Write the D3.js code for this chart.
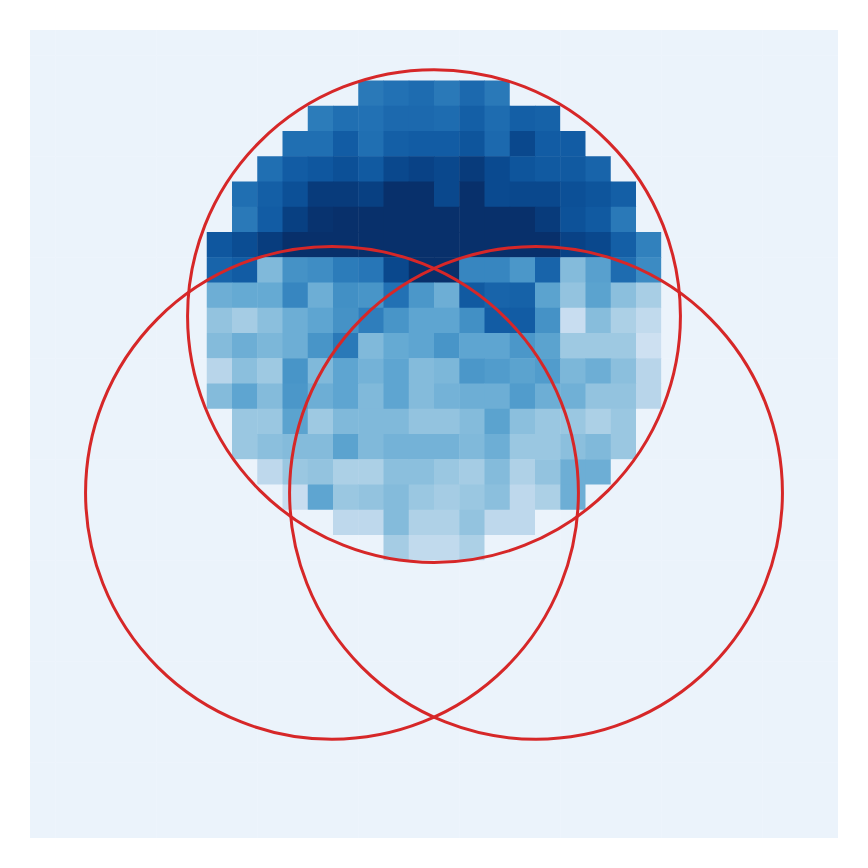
<!DOCTYPE html>
<html>
<head>
<meta charset="utf-8">
<script src="https://cdn.jsdelivr.net/npm/d3@7"></script>
<style>
  html, body { margin: 0; padding: 0; background: #ffffff; }
  svg { display: block; }
</style>
</head>
<body>
<svg id="chart" width="868" height="868"></svg>
<script>
// ---- data ----
const gridSize = 32;
const backgroundValue = 0.06;
const firstRow = 2;
const rowStarts = [13, 11, 10, 9, 8, 8, 7, 7, 7, 7, 7, 7, 7, 8, 8, 9, 10, 12, 14];
const rowValues = [
  [0.72, 0.75, 0.77, 0.72, 0.78, 0.72],
  [0.71, 0.76, 0.75, 0.78, 0.78, 0.77, 0.82, 0.77, 0.82, 0.81],
  [0.76, 0.76, 0.83, 0.76, 0.82, 0.83, 0.83, 0.86, 0.78, 0.91, 0.83, 0.83],
  [0.76, 0.83, 0.85, 0.88, 0.84, 0.91, 0.93, 0.91, 0.96, 0.90, 0.86, 0.84, 0.84, 0.80],
  [0.76, 0.82, 0.88, 0.96, 0.96, 0.94, 1.00, 1.00, 0.91, 1.00, 0.90, 0.91, 0.91, 0.88, 0.86, 0.82],
  [0.72, 0.83, 0.94, 0.99, 1.00, 1.00, 1.00, 1.00, 1.00, 1.00, 1.00, 1.00, 0.96, 0.87, 0.84, 0.72],
  [0.85, 0.89, 0.95, 1.00, 1.00, 1.00, 1.00, 1.00, 1.00, 1.00, 1.00, 1.00, 1.00, 1.00, 0.93, 0.91, 0.82, 0.69],
  [0.80, 0.83, 0.45, 0.62, 0.64, 0.71, 0.73, 0.91, 1.00, 1.00, 0.67, 0.67, 0.60, 0.80, 0.44, 0.56, 0.77, 0.65],
  [0.50, 0.52, 0.52, 0.67, 0.50, 0.63, 0.61, 0.75, 0.60, 0.50, 0.84, 0.80, 0.81, 0.55, 0.40, 0.55, 0.42, 0.34],
  [0.40, 0.35, 0.42, 0.50, 0.54, 0.62, 0.70, 0.61, 0.54, 0.54, 0.63, 0.83, 0.83, 0.62, 0.23, 0.43, 0.33, 0.26],
  [0.44, 0.50, 0.46, 0.50, 0.61, 0.72, 0.45, 0.52, 0.54, 0.61, 0.54, 0.54, 0.60, 0.55, 0.37, 0.37, 0.37, 0.21],
  [0.29, 0.42, 0.37, 0.61, 0.45, 0.54, 0.48, 0.54, 0.44, 0.46, 0.60, 0.58, 0.55, 0.58, 0.46, 0.50, 0.42, 0.29],
  [0.44, 0.54, 0.44, 0.60, 0.50, 0.54, 0.45, 0.54, 0.44, 0.48, 0.50, 0.50, 0.58, 0.50, 0.49, 0.40, 0.40, 0.29],
  [0.38, 0.38, 0.55, 0.37, 0.45, 0.45, 0.45, 0.40, 0.40, 0.44, 0.55, 0.42, 0.38, 0.38, 0.33, 0.38],
  [0.38, 0.42, 0.44, 0.44, 0.55, 0.45, 0.48, 0.48, 0.48, 0.45, 0.50, 0.38, 0.38, 0.42, 0.45, 0.38],
  [0.27, 0.38, 0.40, 0.33, 0.33, 0.42, 0.42, 0.38, 0.35, 0.44, 0.32, 0.40, 0.50, 0.50],
  [0.23, 0.54, 0.38, 0.40, 0.44, 0.38, 0.35, 0.38, 0.42, 0.27, 0.33, 0.50],
  [0.27, 0.27, 0.44, 0.32, 0.32, 0.40, 0.27, 0.27],
  [0.35, 0.26, 0.26, 0.33]
];
// circle centres in grid units
const circleX = [16.0, 11.96, 20.04];
const circleY = [11.33, 18.33, 18.33];
const circleR = [9.76, 9.76, 9.76];

// ---- build cells ----
const cells = [];
for (let r = 0; r < gridSize; r++) {
  for (let c = 0; c < gridSize; c++) {
    let v = backgroundValue;
    const ri = r - firstRow;
    if (ri >= 0 && ri < rowValues.length) {
      const ci = c - rowStarts[ri];
      if (ci >= 0 && ci < rowValues[ri].length) v = rowValues[ri][ci];
    }
    cells.push({ r, c, v });
  }
}

// ---- draw ----
const svg = d3.select("#chart");
const plotLeft = 30, plotTop = 30, plotSize = 808;
const idx = d3.range(gridSize);
const xBand = d3.scaleBand().domain(idx).range([plotLeft, plotLeft + plotSize]).padding(0);
const yBand = d3.scaleBand().domain(idx).range([plotTop, plotTop + plotSize]).padding(0);
const x = d3.scaleLinear().domain([0, gridSize]).range([plotLeft, plotLeft + plotSize]);
const y = d3.scaleLinear().domain([0, gridSize]).range([plotTop, plotTop + plotSize]);
const color = d3.scaleSequential(d3.interpolateBlues).domain([0, 1]);

svg.append("g")
  .selectAll("rect")
  .data(cells)
  .join("rect")
  .attr("x", d => xBand(d.c))
  .attr("y", d => yBand(d.r))
  .attr("width", d => (d.c === gridSize - 1 ? xBand.bandwidth() : xBand.bandwidth() + 0.5))
  .attr("height", d => (d.r === gridSize - 1 ? yBand.bandwidth() : yBand.bandwidth() + 0.5))
  .attr("fill", d => color(d.v));

const circles = circleX.map((cx, i) => ({ cx, cy: circleY[i], r: circleR[i] }));
svg.append("g")
  .selectAll("circle")
  .data(circles)
  .join("circle")
  .attr("cx", d => x(d.cx))
  .attr("cy", d => y(d.cy))
  .attr("r", d => x(d.r) - x(0))
  .attr("fill", "none")
  .attr("stroke", "#d62728")
  .attr("stroke-width", 3);
</script>
</body>
</html>
